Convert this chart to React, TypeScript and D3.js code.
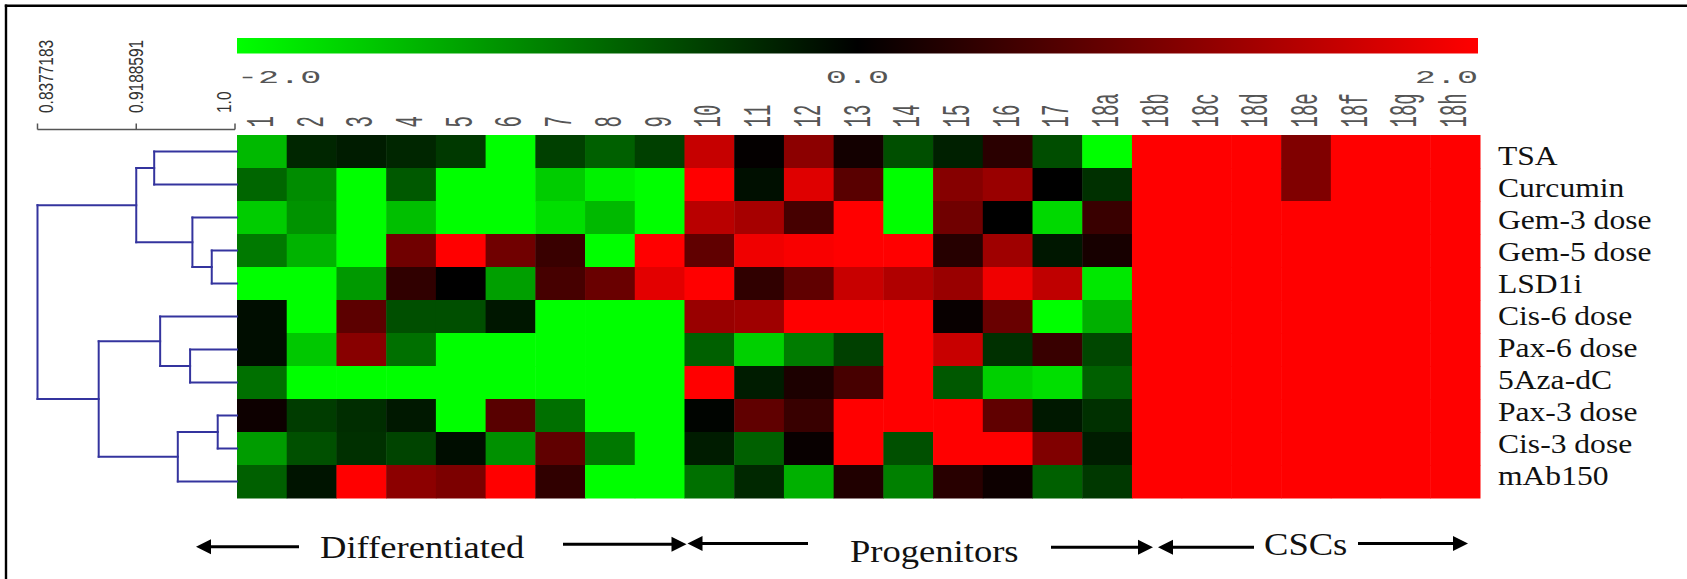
import React from "react";
import * as d3 from "d3";

// ---------- data ----------
const columns = [
  "1", "2", "3", "4", "5", "6", "7", "8", "9", "10", "11", "12", "13", "14", "15", "16", "17",
  "18a", "18b", "18c", "18d", "18e", "18f", "18g", "18h",
];

const treatments = [
  "TSA", "Curcumin", "Gem-3 dose", "Gem-5 dose", "LSD1i", "Cis-6 dose",
  "Pax-6 dose", "5Aza-dC", "Pax-3 dose", "Cis-3 dose", "mAb150",
];

// log-ratio values, columns 1..17, 18a, 18b..18h
const valTSA = [-1.45, -0.3, -0.22, -0.3, -0.45, -2, -0.5, -0.75, -0.5, 1.55, 0.03, 1.1, 0.15, -0.62, -0.25, 0.33, -0.6, -2, 2, 2, 2, 1.0, 2, 2, 2];
const valCurcumin = [-0.8, -1.1, -2, -0.7, -2, -2, -1.6, -1.9, -2, 2, -0.12, 1.75, 0.7, -2, 1.05, 1.2, 0, -0.38, 2, 2, 2, 1.0, 2, 2, 2];
const valGem3 = [-1.6, -1.15, -2, -1.5, -2, -2, -1.75, -1.45, -2, 1.45, 1.3, 0.55, 2, -2, 0.88, 0, -1.7, 0.45, 2, 2, 2, 2, 2, 2, 2];
const valGem5 = [-0.95, -1.4, -2, 0.88, 2, 0.88, 0.45, -2, 2, 0.75, 1.88, 1.95, 2, 2, 0.3, 1.25, -0.18, 0.18, 2, 2, 2, 2, 2, 2, 2];
const valLSD1i = [-2, -2, -1.2, 0.38, 0, -1.25, 0.55, 0.82, 1.78, 2, 0.38, 0.75, 1.57, 1.38, 1.2, 1.88, 1.5, -1.82, 2, 2, 2, 2, 2, 2, 2];
const valCis6 = [-0.1, -2, 0.72, -0.62, -0.62, -0.18, -2, -2, -2, 1.2, 1.25, 2, 2, 2, 0.06, 0.82, -2, -1.38, 2, 2, 2, 2, 2, 2, 2];
const valPax6 = [-0.1, -1.57, 1.07, -0.88, -2, -2, -2, -2, -2, -0.75, -1.63, -0.97, -0.5, 2, 1.57, -0.38, 0.44, -0.56, 2, 2, 2, 2, 2, 2, 2];
const val5Aza = [-0.88, -2, -2, -2, -2, -2, -2, -2, -2, 2, -0.22, 0.22, 0.56, 2, -0.69, -1.63, -1.75, -0.75, 2, 2, 2, 2, 2, 2, 2];
const valPax3 = [0.1, -0.47, -0.35, -0.19, -2, 0.69, -0.88, -2, -2, -0.03, 0.75, 0.44, 2, 2, 2, 0.75, -0.19, -0.38, 2, 2, 2, 2, 2, 2, 2];
const valCis3 = [-1.22, -0.63, -0.38, -0.53, -0.1, -1.13, 0.75, -0.94, -2, -0.22, -0.75, 0.06, 2, -0.63, 2, 2, 1.0, -0.22, 2, 2, 2, 2, 2, 2, 2];
const valMAb150 = [-0.75, -0.16, 2, 1.1, 0.97, 2, 0.38, -2, -2, -0.88, -0.31, -1.38, 0.25, -1.0, 0.31, 0.1, -0.75, -0.44, 2, 2, 2, 2, 2, 2, 2];

const rowValues = [valTSA, valCurcumin, valGem3, valGem5, valLSD1i, valCis6, valPax6, val5Aza, valPax3, valCis3, valMAb150];

const colorTicks = ["-2.0", "0.0", "2.0"];
const colorDomain = [-2, 0, 2];
const colorRange = ["#00ff00", "#000000", "#ff0000"];

const distanceTicks = [0.8377183, 0.9188591, 1.0];
const distanceTickLabels = ["0.8377183", "0.9188591", "1.0"];

// dendrogram: [left, right, similarity]
type TreeNode = string | [TreeNode, TreeNode, number];
const dendrogram: TreeNode = [
  [
    ["TSA", "Curcumin", 0.9336],
    ["Gem-3 dose", ["Gem-5 dose", "LSD1i", 0.9809], 0.965],
    0.9188591,
  ],
  [
    ["Cis-6 dose", ["Pax-6 dose", "5Aza-dC", 0.9631], 0.9385],
    [["Pax-3 dose", "Cis-3 dose", 0.9858], "mAb150", 0.953],
    0.888,
  ],
  0.8377183,
];

const groups = ["Differentiated", "Progenitors", "CSCs"];

// ---------- layout ----------
const W = 1687;
const H = 579;
const HM = { left: 237, right: 1480, top: 135, bottom: 498 };
const CB = { top: 38, bottom: 53.5, left: 237, right: 1478 };
const DENDRO = { left: 37.5, right: 235, axisY: 129.5 };
const dendroColor = "#34349e";

// annotation arrows: [tipLeft, tailLeft, textX, baseline, tailRight, tipRight, yLeft, yRight]
const annotLayout = [
  { tipL: 196, tailL: 299, textX: 320, base: 558, tailR: 563, tipR: 686.5, yL: 546.7, yR: 544.3 },
  { tipL: 687.5, tailL: 808, textX: 850, base: 562, tailR: 1051, tipR: 1153, yL: 543.5, yR: 547.3 },
  { tipL: 1158, tailL: 1254, textX: 1264, base: 555, tailR: 1358, tipR: 1468, yL: 547.3, yR: 543.5 },
];

function Arrow({ tip, tail, y }: { tip: number; tail: number; y: number }) {
  const dir = tail > tip ? 1 : -1;
  const hl = 15;
  const hw = 7.5;
  return (
    <g>
      <line x1={tip + dir * (hl - 2)} x2={tail} y1={y} y2={y} stroke="#000" strokeWidth={3} />
      <path d={`M${tip},${y} L${tip + dir * hl},${y - hw} L${tip + dir * hl},${y + hw} Z`} fill="#000" />
    </g>
  );
}

export default function App() {
  const x = d3.scaleBand<string>().domain(columns).range([HM.left, HM.right]);
  const y = d3.scaleBand<string>().domain(treatments).range([HM.top, HM.bottom]);
  const color = d3.scaleLinear<string>().domain(colorDomain).range(colorRange).clamp(true);
  const dx = d3.scaleLinear().domain([distanceTicks[0], 1.0]).range([DENDRO.left, DENDRO.right]);
  const labelY = d3.scalePoint<string>().domain(treatments).range([165, 485]);

  // dendrogram segments
  const segs: { x1: number; y1: number; x2: number; y2: number }[] = [];
  const walk = (n: TreeNode): { x: number; y: number } => {
    if (typeof n === "string") return { x: HM.left, y: (y(n) ?? 0) + y.bandwidth() / 2 };
    const a = walk(n[0]);
    const b = walk(n[1]);
    const nx = dx(n[2]);
    segs.push({ x1: nx, y1: a.y, x2: nx, y2: b.y });
    segs.push({ x1: nx, y1: a.y, x2: a.x, y2: a.y });
    segs.push({ x1: nx, y1: b.y, x2: b.x, y2: b.y });
    return { x: nx, y: (a.y + b.y) / 2 };
  };
  walk(dendrogram);

  const cbScale = d3.scaleLinear().domain([-2, 2]).range([CB.left, CB.right]);
  const monoFont = "'Liberation Mono', 'DejaVu Sans Mono', monospace";
  const serifFont = "'Liberation Serif', 'DejaVu Serif', serif";

  return (
    <svg width={W} height={H} style={{ position: "absolute", left: 0, top: 0, background: "#fff" }}>
      <defs>
        <linearGradient id="cbgrad" x1="0" x2="1" y1="0" y2="0">
          {colorDomain.map((v, i) => (
            <stop key={i} offset={(v + 2) / 4} stopColor={color(v)} />
          ))}
        </linearGradient>
      </defs>
      <rect width={W} height={H} fill="#fff" />
      {/* frame */}
      <line x1={4.8} x2={W} y1={5.7} y2={5.7} stroke="#000" strokeWidth={2.4} />
      <line x1={6} x2={6} y1={4.5} y2={H} stroke="#000" strokeWidth={2.4} />

      {/* color bar */}
      <rect x={CB.left} y={CB.top} width={CB.right - CB.left} height={CB.bottom - CB.top} fill="url(#cbgrad)" />
      {colorTicks.map((t, i) => {
        const v = colorDomain[i];
        const anchor = i === 0 ? "start" : i === colorTicks.length - 1 ? "end" : "middle";
        return (
          <text
            key={t}
            transform={`translate(${cbScale(v)},83) scale(1.85,1)`}
            textAnchor={anchor}
            fontFamily={monoFont}
            fontSize={19}
            fill="#555"
          >
            {t}
          </text>
        );
      })}

      {/* column labels */}
      {columns.map((c) => (
        <text
          key={c}
          transform={`translate(${(x(c) ?? 0) + x.bandwidth() / 2},127.5) scale(2,1) rotate(-90)`}
          y={5.5}
          fontFamily={monoFont}
          fontSize={19}
          fill="#555"
        >
          {c}
        </text>
      ))}

      {/* heatmap */}
      {treatments.map((t, r) =>
        columns.map((c, ci) => (
          <rect
            key={t + c}
            x={x(c)}
            y={y(t)}
            width={x.bandwidth() + 0.5}
            height={y.bandwidth() + 0.5}
            fill={color(rowValues[r][ci])}
          />
        ))
      )}

      {/* row labels */}
      {treatments.map((t) => (
        <text
          key={t}
          transform={`translate(1498,${labelY(t)}) scale(1.17,1)`}
          fontFamily={serifFont}
          fontSize={27}
          fill="#111"
        >
          {t}
        </text>
      ))}

      {/* dendrogram axis */}
      <g stroke="#555" strokeWidth={1.5}>
        <line x1={DENDRO.left} x2={DENDRO.right} y1={DENDRO.axisY} y2={DENDRO.axisY} />
        {distanceTicks.map((d) => (
          <line key={d} x1={dx(d)} x2={dx(d)} y1={DENDRO.axisY - 6} y2={DENDRO.axisY} />
        ))}
      </g>
      {distanceTicks.map((d, i) => {
        const cx = Math.min(Math.max(dx(d), DENDRO.left + 9), DENDRO.right - 11);
        return (
          <text
            key={d}
            transform={`translate(${cx},113) scale(1.25,1) rotate(-90)`}
            y={5.5}
            fontFamily="'Liberation Sans', Arial, sans-serif"
            fontSize={15.5}
            fill="#333"
          >
            {distanceTickLabels[i]}
          </text>
        );
      })}

      {/* dendrogram */}
      <g stroke={dendroColor} strokeWidth={2} strokeLinecap="square">
        {segs.map((s, i) => (
          <line key={i} x1={s.x1} y1={s.y1} x2={s.x2} y2={s.y2} />
        ))}
      </g>

      {/* group annotations */}
      {groups.map((g, i) => {
        const a = annotLayout[i];
        return (
          <g key={g}>
            <Arrow tip={a.tipL} tail={a.tailL} y={a.yL} />
            <text
              transform={`translate(${a.textX},${a.base}) scale(1.18,1)`}
              fontFamily={serifFont}
              fontSize={31}
              fill="#111"
            >
              {g}
            </text>
            <Arrow tip={a.tipR} tail={a.tailR} y={a.yR} />
          </g>
        );
      })}
    </svg>
  );
}
